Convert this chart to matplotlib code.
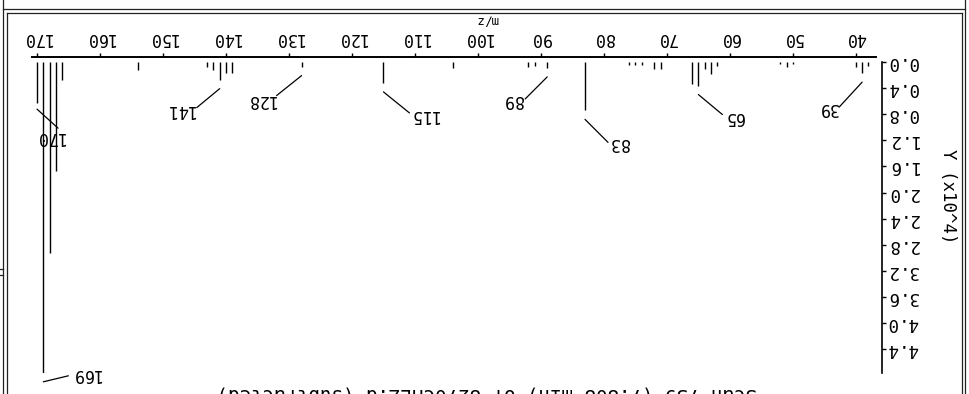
import numpy as np
import matplotlib
matplotlib.use('Agg')
import matplotlib.pyplot as plt
import matplotlib.transforms as mtransforms
from matplotlib.lines import Line2D

plt.rcParams['font.family'] = 'DejaVu Sans Mono'

# Spectrum data (abundance in units of 10^4)
mz = [38, 39, 40, 50, 51, 52, 62, 63, 64, 65, 66, 71, 72, 74, 75, 76,
      83, 89, 91, 92, 104, 115, 128, 139, 140, 141, 142, 143, 154,
      166, 167, 168, 169, 170]
abundance = [0.06, 0.17, 0.08, 0.03, 0.08, 0.03, 0.06, 0.18, 0.11, 0.36, 0.34,
             0.11, 0.10, 0.05, 0.05, 0.05,
             0.74, 0.09, 0.06, 0.08, 0.09, 0.32, 0.07, 0.17, 0.17, 0.27, 0.12,
             0.08, 0.12, 0.28, 1.67, 2.92, 4.76, 0.63]

labelled = [39, 65, 83, 89, 115, 128, 141, 169, 170]
x_ticks = list(range(40, 171, 10))
y_ticks = [0.0, 0.4, 0.8, 1.2, 1.6, 2.0, 2.4, 2.8, 3.2, 3.6, 4.0, 4.4]
title = 'Scan 739 (7.808 min) of 8270CHLZ.d (subtracted)'

# leader end / text centre offsets in pixels (dx, dy down) from the peak top
label_layout = {
    39: (-23, 34, -34, 35),
    65: (24, 29, 35, 31),
    83: (23, 32, 34, 33),
    89: (-22, 31, -34, 32),
    115: (26, 30, 41, 32),
    128: (-25, 29, -41, 33),
    141: (-23, 28, -40, 30),
    169: (25, 3, 43, 1),
    170: (21, 25, 13, 34),
}

W, H = 970, 394
fig = plt.figure(figsize=(W / 100, H / 100), dpi=100)
ax = fig.add_axes([32 / W, 1 - 373 / H, (876 - 32) / W, (373 - 57) / H])

ax.vlines(mz, 0, abundance, color='black', lw=1.0)

# whole chart is shown rotated by 180 degrees
ax.set_xlim(170.8, 36.8)
ax.set_ylim(4.763, -0.077)

for s in ['left', 'bottom']:
    ax.spines[s].set_visible(False)
ax.spines['top'].set_linewidth(1.4)
ax.spines['right'].set_linewidth(1.2)
ax.spines['right'].set_position(('outward', 4.3))
ax.spines['right'].set_bounds(0, 4.763)

ax.xaxis.tick_top()
ax.set_xticks(x_ticks)
ax.set_xticklabels([str(t) for t in x_ticks], rotation=180)
ax.tick_params(axis='x', direction='out', length=3, width=1, pad=4.5, labelsize=12)

ax.yaxis.tick_right()
ax.set_yticks(y_ticks)
ax.set_yticklabels(['%.1f' % t for t in y_ticks], rotation=180, va='center')
ax.tick_params(axis='y', direction='out', length=3, width=1, pad=0.5, labelsize=12.5)

ax.set_xlabel('m/z', rotation=180, fontsize=9, va='center', ha='center')
ax.xaxis.set_label_coords(0.539, 1.117)
ax.set_ylabel('Y (x10^4)', rotation=270, fontsize=12.5, va='center', ha='center')
ax.yaxis.set_label_position('right')
ax.yaxis.set_label_coords(1.096, 0.56)


def offset(dx, dy):
    return mtransforms.offset_copy(ax.transData, fig=fig, x=dx, y=-dy, units='dots')


for m in labelled:
    v = abundance[mz.index(m)]
    ex, ey, tx, ty = label_layout[m]
    gap = 6 if m == 170 else 9
    ax.annotate('', xy=(m, v), xycoords=offset(0, gap),
                xytext=(m, v), textcoords=offset(ex, ey),
                arrowprops=dict(arrowstyle='-', lw=0.9, color='black',
                                shrinkA=0, shrinkB=0),
                annotation_clip=False)
    ax.annotate(str(m), xy=(m, v), xytext=(tx, -ty), textcoords='offset pixels',
                rotation=180, ha='center', va='center', fontsize=12)

fig.text(487 / W, 1 - 384 / H, title, rotation=180, ha='center', va='top',
         fontsize=13.8)


# window frame
def fline(x0, y0, x1, y1):
    fig.add_artist(Line2D([x0 / W, x1 / W], [1 - y0 / H, 1 - y1 / H],
                          color='#222222', lw=0.9))


fline(3.5, 0, 3.5, H)
fline(7, 12.5, 7, H)
fline(965.5, 0, 965.5, H)
fline(962, 12.5, 962, H)
fline(3.5, 8.5, 965.5, 8.5)
fline(7, 12.5, 962, 12.5)
fline(0, 269, 3.5, 269)
fline(0, 275, 3.5, 275)

fig.savefig('out.png', dpi=100)
